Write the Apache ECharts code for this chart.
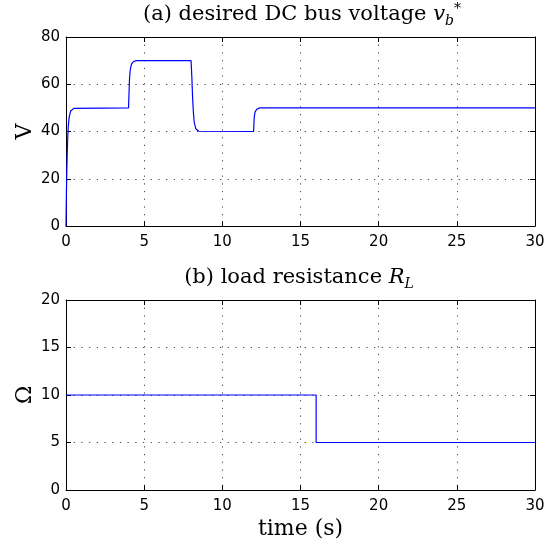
<!DOCTYPE html>
<html>
<head>
<meta charset="utf-8">
<script src="https://cdn.jsdelivr.net/npm/echarts@6/dist/echarts.min.js"></script>
<style>html,body{margin:0;padding:0;background:#fff}#c{width:556px;height:550px}</style>
</head>
<body>
<div id="c"></div>
<script>
// Top panel: desired DC bus voltage v_b* (V) vs time (s)
const timeV = [0, 0.02, 0.05, 0.1, 0.15, 0.2, 0.3, 0.4, 0.5, 0.6,
  4.0, 4.03, 4.06, 4.1, 4.15, 4.2, 4.3, 4.4, 4.5,
  8.0, 8.05, 8.1, 8.15, 8.2, 8.3, 8.4, 8.5, 8.6,
  12.0, 12.03, 12.06, 12.1, 12.2, 12.3, 12.4, 30];
const voltV = [0, 11, 23, 36, 42.5, 46, 48.7, 49.5, 49.8, 50,
  50, 56, 62, 65.5, 67.5, 68.6, 69.5, 69.9, 70,
  70, 63, 54, 48, 44, 41.2, 40.4, 40.1, 40,
  40, 45, 47, 48.3, 49.4, 49.8, 50, 50];
// Bottom panel: load resistance R_L (Ohm) vs time (s)
const timeR = [0, 16, 16, 30];
const resR = [10, 10, 5, 5];
// Axis ticks
const xTicks = [0, 5, 10, 15, 20, 25, 30];
const yTicksV = [0, 20, 40, 60, 80];
const yTicksR = [0, 5, 10, 15, 20];

const SANS = 'DejaVu Sans';
const SERIF = 'DejaVu Serif';
const BLACK = '#000';
const gridLine = {show: true, lineStyle: {color: '#444', width: 1, type: [1.2, 6.5]}};

function xAx(gi, pos, labels, name) {
  return {
    type: 'value', gridIndex: gi, position: pos,
    min: xTicks[0], max: xTicks[xTicks.length - 1], interval: xTicks[1] - xTicks[0],
    axisLine: {show: true, onZero: false, lineStyle: {color: BLACK, width: 1}},
    axisTick: {show: true, inside: true, length: 5, lineStyle: {color: BLACK}},
    axisLabel: {show: labels, color: BLACK, fontFamily: SANS, fontSize: 15, margin: 9},
    splitLine: labels ? gridLine : {show: false},
    name: name || '', nameLocation: 'middle', nameGap: 28,
    nameTextStyle: {color: BLACK, fontFamily: SERIF, fontSize: 22}
  };
}
function yAx(gi, pos, ticks, labels, name) {
  return {
    type: 'value', gridIndex: gi, position: pos,
    min: ticks[0], max: ticks[ticks.length - 1], interval: ticks[1] - ticks[0],
    axisLine: {show: true, onZero: false, lineStyle: {color: BLACK, width: 1}},
    axisTick: {show: true, inside: true, length: 5, lineStyle: {color: BLACK}},
    axisLabel: {show: labels, color: BLACK, fontFamily: SANS, fontSize: 15, margin: 6},
    splitLine: labels ? gridLine : {show: false},
    name: name || '', nameLocation: 'middle', nameGap: 30, nameRotate: 90,
    nameMoveOverlap: false,
    nameTextStyle: {color: BLACK, fontFamily: SERIF, fontSize: 22}
  };
}

const titleRich = {
  n: {fontFamily: SERIF, fontSize: 21, fill: BLACK, verticalAlign: 'middle', lineHeight: 26},
  v: {fontFamily: SERIF, fontSize: 21, fontStyle: 'italic', fill: BLACK, verticalAlign: 'middle'},
  s: {fontFamily: SERIF, fontSize: 14, fontStyle: 'italic', fill: BLACK, verticalAlign: 'bottom'},
  p: {fontFamily: SERIF, fontSize: 14, fill: BLACK, verticalAlign: 'top'}
};

const chart = echarts.init(document.getElementById('c'), null, {renderer: 'canvas'});
chart.setOption({
  animation: false,
  backgroundColor: '#fff',
  grid: [
    {left: 66, top: 37, width: 469, height: 189},
    {left: 66, top: 300, width: 469, height: 190}
  ],
  xAxis: [
    xAx(0, 'bottom', true),
    xAx(0, 'top', false),
    xAx(1, 'bottom', true, 'time (s)'),
    xAx(1, 'top', false)
  ],
  yAxis: [
    yAx(0, 'left', yTicksV, true, 'V'),
    yAx(0, 'right', yTicksV, false),
    yAx(1, 'left', yTicksR, true, 'Ω'),
    yAx(1, 'right', yTicksR, false)
  ],
  graphic: [
    {type: 'text', x: 302, y: 15, style: {
      text: '{n|(a) desired DC bus voltage }{v|v}{s|b}{p|*}',
      align: 'center', verticalAlign: 'middle', rich: titleRich
    }},
    {type: 'text', x: 299, y: 278, style: {
      text: '{n|(b) load resistance }{v|R}{s|L}',
      align: 'center', verticalAlign: 'middle', rich: titleRich
    }}
  ],
  series: [
    {type: 'line', xAxisIndex: 0, yAxisIndex: 0, showSymbol: false, smooth: false,
     lineStyle: {color: '#0000ff', width: 1.2}, data: timeV.map((t, i) => [t, voltV[i]])},
    {type: 'line', xAxisIndex: 2, yAxisIndex: 2, showSymbol: false,
     lineStyle: {color: '#0000ff', width: 1.2}, data: timeR.map((t, i) => [t, resR[i]])}
  ]
});
</script>
</body>
</html>
